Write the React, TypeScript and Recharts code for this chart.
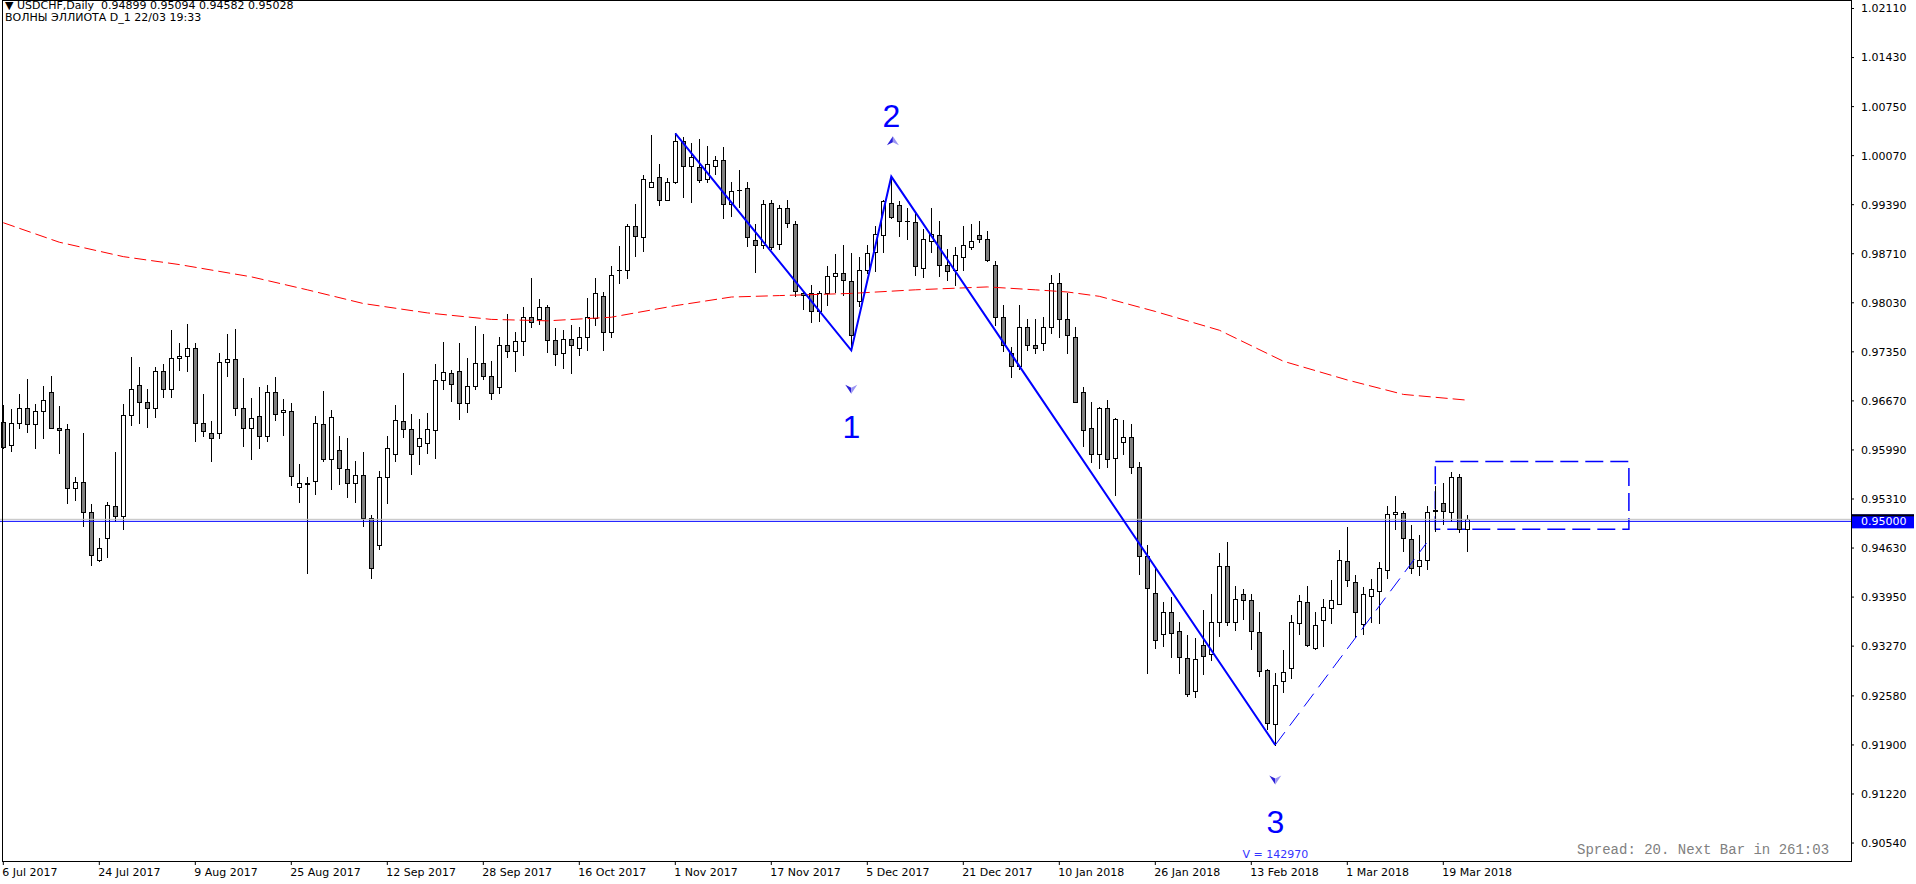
import React from "react";
import {
  Bar,
  ComposedChart,
  Line,
  ReferenceArea,
  ReferenceDot,
  ReferenceLine,
  XAxis,
  YAxis,
} from "recharts";

const FONT = "'DejaVu Sans', Verdana, sans-serif";
const BLUE = "#0000ff";

// USDCHF daily, 6 Jul 2017 .. 22 Mar 2018 (bar index 0..183)
const opens = [
  0.9638, 0.9606, 0.9636, 0.9657, 0.9635, 0.9653, 0.9679, 0.963, 0.9628, 0.9546,
  0.9554, 0.9513, 0.9446, 0.9477, 0.9521, 0.9508, 0.9648, 0.9689, 0.9666, 0.9657,
  0.9708, 0.9684, 0.9726, 0.9729, 0.9741, 0.9636, 0.9622, 0.9622, 0.9721, 0.9725,
  0.9657, 0.9629, 0.9646, 0.9619, 0.968, 0.9651, 0.9653, 0.9547, 0.9553, 0.9556,
  0.9635, 0.9586, 0.9599, 0.9572, 0.9553, 0.9564, 0.9504, 0.9467, 0.9562, 0.9593,
  0.9639, 0.9628, 0.9605, 0.9608, 0.9626, 0.9696, 0.9705, 0.9708, 0.9664, 0.9687,
  0.972, 0.9701, 0.9686, 0.9745, 0.9736, 0.975, 0.9783, 0.978, 0.9797, 0.9751,
  0.9733, 0.9753, 0.9741, 0.9755, 0.9782, 0.9813, 0.9762, 0.9848, 0.9848, 0.991,
  0.9894, 0.9964, 0.9978, 0.9946, 0.997, 1.0027, 0.9992, 0.9991, 0.9974, 0.9992,
  1.0001, 0.994, 0.996, 0.9962, 0.989, 0.9883, 0.9941, 0.9885, 0.9934, 0.9912,
  0.9817, 0.9816, 0.9791, 0.9816, 0.984, 0.9844, 0.9833, 0.9806, 0.9848, 0.9874,
  0.9897, 0.9942, 0.9938, 0.9917, 0.9915, 0.9851, 0.9888, 0.9897, 0.9855, 0.9848,
  0.9867, 0.9881, 0.9897, 0.9891, 0.9856, 0.9784, 0.9734, 0.9715, 0.9769, 0.9744,
  0.9747, 0.977, 0.983, 0.9781, 0.9755, 0.968, 0.9629, 0.9594, 0.9657, 0.9588,
  0.961, 0.9617, 0.9575, 0.9452, 0.94, 0.9344, 0.9374, 0.9348, 0.931, 0.9265,
  0.9328, 0.9316, 0.936, 0.9438, 0.936, 0.9399, 0.9391, 0.9346, 0.9294, 0.9219,
  0.9278, 0.9296, 0.9359, 0.9388, 0.9324, 0.9363, 0.938, 0.9386, 0.9445, 0.9416,
  0.9357, 0.9396, 0.9404, 0.9432, 0.951, 0.9511, 0.9475, 0.9438, 0.9447, 0.9515,
  0.9525, 0.9513, 0.9562, 0.94899,
];
const highs = [
  0.9661, 0.9656, 0.9677, 0.9697, 0.9663, 0.9688, 0.9702, 0.966, 0.9635, 0.9561,
  0.9623, 0.9524, 0.9477, 0.9527, 0.9596, 0.9662, 0.9728, 0.9714, 0.9684, 0.9714,
  0.9718, 0.9765, 0.9747, 0.9774, 0.9747, 0.9677, 0.9639, 0.9733, 0.976, 0.9767,
  0.9699, 0.9671, 0.9686, 0.9689, 0.97, 0.967, 0.9664, 0.958, 0.9561, 0.9646,
  0.9681, 0.9654, 0.9618, 0.9616, 0.9584, 0.9596, 0.9509, 0.957, 0.9618, 0.9661,
  0.9706, 0.9649, 0.9642, 0.965, 0.9718, 0.9749, 0.971, 0.9747, 0.9726, 0.9771,
  0.976, 0.9722, 0.9756, 0.9788, 0.9763, 0.9797, 0.9837, 0.9808, 0.98, 0.9768,
  0.9765, 0.9772, 0.9769, 0.981, 0.9837, 0.9818, 0.9854, 0.9882, 0.9912, 0.994,
  0.998, 1.0036, 0.9996, 0.9976, 1.0038, 1.0033, 1.0024, 1.003, 1.002, 1.0007,
  1.0019, 0.997, 0.9987, 0.9971, 0.9912, 0.9946, 0.9945, 0.9938, 0.9946, 0.9917,
  0.9819, 0.9827, 0.982, 0.9854, 0.987, 0.9883, 0.9872, 0.9867, 0.9883, 0.991,
  0.9946, 0.9978, 0.9944, 0.9935, 0.9927, 0.9905, 0.9935, 0.9917, 0.9878, 0.988,
  0.991, 0.9912, 0.9916, 0.9903, 0.9861, 0.98, 0.9742, 0.98, 0.978, 0.978,
  0.9784, 0.9842, 0.9845, 0.9816, 0.977, 0.9686, 0.9666, 0.9658, 0.9668, 0.9643,
  0.964, 0.9635, 0.9582, 0.9467, 0.9435, 0.9388, 0.9395, 0.936, 0.9343, 0.9338,
  0.9377, 0.9399, 0.9456, 0.9471, 0.941, 0.9406, 0.9399, 0.9375, 0.9295, 0.929,
  0.9321, 0.937, 0.9398, 0.941, 0.9375, 0.9392, 0.9418, 0.946, 0.9492, 0.9425,
  0.9409, 0.942, 0.9443, 0.9521, 0.9535, 0.9514, 0.9495, 0.9481, 0.9521, 0.9549,
  0.9553, 0.9569, 0.9565, 0.95094,
];
const lows = [
  0.9601, 0.9597, 0.963, 0.9624, 0.9602, 0.9616, 0.9629, 0.9595, 0.9525, 0.9529,
  0.9493, 0.9439, 0.9445, 0.9451, 0.95, 0.949, 0.9634, 0.9637, 0.9631, 0.9644,
  0.9672, 0.9672, 0.971, 0.9709, 0.9612, 0.9619, 0.9584, 0.9615, 0.9702, 0.9648,
  0.9605, 0.9586, 0.9601, 0.9612, 0.9641, 0.962, 0.955, 0.9527, 0.9429, 0.9538,
  0.9583, 0.9545, 0.9552, 0.9534, 0.9527, 0.9494, 0.9421, 0.9461, 0.9525, 0.9584,
  0.9617, 0.9565, 0.958, 0.9595, 0.9588, 0.9684, 0.9667, 0.9642, 0.9652, 0.9684,
  0.9698, 0.967, 0.9678, 0.9728, 0.9709, 0.973, 0.977, 0.9773, 0.9735, 0.9717,
  0.9712, 0.9705, 0.973, 0.9738, 0.9772, 0.9737, 0.9755, 0.9831, 0.9838, 0.9868,
  0.9875, 0.9963, 0.9938, 0.9945, 0.9969, 0.9949, 0.9943, 0.9971, 0.997, 0.9981,
  0.9921, 0.9924, 0.9936, 0.9882, 0.9846, 0.9879, 0.9878, 0.9878, 0.9908, 0.9813,
  0.9795, 0.9776, 0.9778, 0.98, 0.9818, 0.9814, 0.9738, 0.9799, 0.9845, 0.9847,
  0.9873, 0.9921, 0.9896, 0.9891, 0.9842, 0.9839, 0.9873, 0.984, 0.9835, 0.9828,
  0.9848, 0.9878, 0.9887, 0.9861, 0.9772, 0.9736, 0.97, 0.9711, 0.9737, 0.9733,
  0.9738, 0.9761, 0.9755, 0.9733, 0.9665, 0.9604, 0.9582, 0.9574, 0.9575, 0.9536,
  0.9593, 0.9567, 0.9427, 0.929, 0.9324, 0.9327, 0.9312, 0.929, 0.9258, 0.9256,
  0.9288, 0.9308, 0.9341, 0.9356, 0.9349, 0.9364, 0.9323, 0.9285, 0.9212, 0.919,
  0.9263, 0.9283, 0.9344, 0.9327, 0.9323, 0.9327, 0.9359, 0.9385, 0.941, 0.9339,
  0.9344, 0.936, 0.9359, 0.9422, 0.9489, 0.9459, 0.9429, 0.9425, 0.9434, 0.9487,
  0.9496, 0.9501, 0.9485, 0.94582,
];
const closes = [
  0.9603, 0.9637, 0.9657, 0.9635, 0.9653, 0.9668, 0.963, 0.9627, 0.9546, 0.9554,
  0.9513, 0.9453, 0.9463, 0.9522, 0.9508, 0.9648, 0.9684, 0.9665, 0.9657, 0.9708,
  0.9684, 0.9726, 0.9729, 0.9741, 0.9636, 0.9625, 0.9615, 0.9721, 0.9725, 0.9657,
  0.9629, 0.9643, 0.9618, 0.968, 0.9649, 0.9654, 0.9563, 0.9553, 0.9552, 0.9636,
  0.9586, 0.9644, 0.9574, 0.9553, 0.9564, 0.9504, 0.9436, 0.9562, 0.9601, 0.964,
  0.9628, 0.9594, 0.9615, 0.9628, 0.9696, 0.9707, 0.969, 0.9664, 0.9687, 0.972,
  0.9701, 0.9678, 0.9745, 0.9736, 0.975, 0.9783, 0.9776, 0.9797, 0.9751, 0.9732,
  0.9753, 0.9744, 0.9755, 0.9784, 0.9816, 0.9762, 0.9842, 0.9849, 0.991, 0.9895,
  0.9974, 0.9971, 0.9946, 0.997, 1.0027, 0.9992, 1.0005, 0.9973, 0.9996, 1.0001,
  0.994, 0.9958, 0.9959, 0.9894, 0.9883, 0.994, 0.988, 0.9935, 0.9913, 0.982,
  0.9814, 0.9791, 0.9817, 0.984, 0.9845, 0.9835, 0.9759, 0.9849, 0.9872, 0.9898,
  0.9944, 0.9922, 0.9917, 0.9916, 0.9854, 0.9891, 0.9898, 0.9856, 0.9847, 0.9869,
  0.9883, 0.9888, 0.9892, 0.9862, 0.9784, 0.9744, 0.9716, 0.9769, 0.9744, 0.974,
  0.977, 0.983, 0.9781, 0.9758, 0.9666, 0.9626, 0.9594, 0.9657, 0.9586, 0.9642,
  0.9617, 0.9575, 0.9452, 0.9407, 0.9335, 0.9375, 0.9345, 0.9312, 0.926, 0.9309,
  0.9314, 0.936, 0.9438, 0.936, 0.9392, 0.9391, 0.9348, 0.9292, 0.922, 0.9273,
  0.9291, 0.936, 0.9389, 0.9328, 0.9356, 0.9381, 0.9391, 0.9446, 0.9418, 0.9375,
  0.9399, 0.9406, 0.9435, 0.951, 0.9513, 0.9477, 0.9435, 0.9447, 0.9513, 0.9516,
  0.9514, 0.9562, 0.9489, 0.95028,
];

const dateLabels = [
  "6 Jul 2017", "24 Jul 2017", "9 Aug 2017", "25 Aug 2017", "12 Sep 2017",
  "28 Sep 2017", "16 Oct 2017", "1 Nov 2017", "17 Nov 2017", "5 Dec 2017",
  "21 Dec 2017", "10 Jan 2018", "26 Jan 2018", "13 Feb 2018", "1 Mar 2018",
  "19 Mar 2018",
];
const priceTicks = [
  1.0211, 1.0143, 1.0075, 1.0007, 0.9939, 0.9871, 0.9803, 0.9735, 0.9667,
  0.9599, 0.9531, 0.9463, 0.9395, 0.9327, 0.9258, 0.919, 0.9122, 0.9054,
];

// moving average (red dashed), read at a few bars
const maBars = [0, 7, 15, 22, 31, 38, 45, 53, 61, 68, 76, 84, 91, 97, 106, 114, 123, 129, 133, 137, 144, 152, 160, 168, 175, 183];
const maValues = [
  0.9914, 0.9887, 0.9867, 0.9856, 0.9839, 0.9821, 0.9802, 0.9789, 0.978, 0.9778,
  0.9783, 0.9799, 0.9811, 0.9813, 0.9816, 0.9821, 0.9825, 0.9821, 0.9818, 0.9812,
  0.9791, 0.9765, 0.9722, 0.9696, 0.9676, 0.9668,
];

// Elliott wave zigzag
const waveBars = [84, 106, 111, 159];
const waveValues = [1.0038, 0.9737, 0.9978, 0.919];
const wave4Bars = [159, 177.9];
const wave4Values = [0.919, 0.947];
const boxBars = [179, 203.2];
const boxPrices = [0.9489, 0.9583];
const levelPrice = 0.95;
const bidPrice = 0.95028;

const waveLabels = [
  { text: "1", i: 106, p: 0.9632 },
  { text: "2", i: 111, p: 1.0063 },
  { text: "3", i: 159, p: 0.9084 },
];
const waveArrows = [
  { i: 106, p: 0.9684, up: false },
  { i: 111.2, p: 1.0027, up: true },
  { i: 159, p: 0.9142, up: false },
];

const candles = opens.map((o, i) => ({
  i,
  o,
  h: highs[i],
  l: lows[i],
  c: closes[i],
  range: [lows[i], highs[i]],
}));
const maData = maBars.map((i, k) => ({ i, v: maValues[k] }));
const waveData = waveBars.map((i, k) => ({ i, w: waveValues[k] }));
const wave4Data = wave4Bars.map((i, k) => ({ i, w: wave4Values[k] }));

function Candle(props: any) {
  const { x, y, width, height, payload } = props;
  if (x == null || payload == null) return null;
  const top = Math.min(y, y + height);
  const bot = Math.max(y, y + height);
  const span = payload.h - payload.l || 1e-9;
  const py = (p: number) => top + ((payload.h - p) / span) * (bot - top);
  const cx = Math.round(x + width / 2);
  const yo = Math.round(py(payload.o));
  const yc = Math.round(py(payload.c));
  const bTop = Math.min(yo, yc);
  const bBot = Math.max(yo, yc);
  const up = payload.c >= payload.o;
  return (
    <g>
      <line x1={cx + 0.5} x2={cx + 0.5} y1={Math.round(top)} y2={Math.round(bot) + 1} stroke="#000" strokeWidth={1} />
      {bBot - bTop < 1 ? (
        <line x1={cx - 2} x2={cx + 3} y1={bTop + 0.5} y2={bTop + 0.5} stroke="#000" strokeWidth={1} />
      ) : (
        <rect
          x={cx - 1.5}
          y={bTop + 0.5}
          width={4}
          height={bBot - bTop}
          fill={up ? "#ffffff" : "#808080"}
          stroke="#000"
          strokeWidth={1}
        />
      )}
    </g>
  );
}

function DateTick(props: any) {
  const { x, y, payload } = props;
  return (
    <text x={x - 1} y={y + 9} fontSize={11} fontFamily={FONT} fill="#000" textAnchor="start">
      {dateLabels[Math.round(payload.value / 12)]}
    </text>
  );
}

function Arrow({ cx, cy, up }: { cx: number; cy: number; up: boolean }) {
  const s = up ? 1 : -1;
  const left = `M${cx},${cy - 5 * s} L${cx - 6},${cy + 4 * s} L${cx},${cy + 1 * s} Z`;
  const right = `M${cx},${cy - 5 * s} L${cx + 6},${cy + 4 * s} L${cx},${cy + 1 * s} Z`;
  return (
    <g>
      <path d={left} fill="#2a1fd8" />
      <path d={right} fill="#9b95f2" />
    </g>
  );
}

export default function App() {
  return (
    <div style={{ position: "fixed", left: 0, top: 0, width: 1916, height: 884, background: "#fff", overflow: "hidden" }}>
      <ComposedChart
        width={1916}
        height={884}
        data={candles}
        margin={{ top: 0, right: 0, bottom: 0, left: 0 }}
      >
        <XAxis
          type="number"
          dataKey="i"
          domain={[-0.4125, 230.9625]}
          allowDataOverflow
          ticks={dateLabels.map((_, k) => k * 12)}
          interval={0}
          tick={<DateTick />}
          tickLine={{ stroke: "#000" }}
          tickSize={4}
          tickMargin={2}
          axisLine={false}
          height={23}
        />
        <YAxis
          orientation="right"
          type="number"
          domain={[0.90291, 1.02228]}
          allowDataOverflow
          ticks={priceTicks}
          interval={0}
          width={65}
          tickFormatter={(v) => (v as number).toFixed(5)}
          tick={{ fontSize: 11, fill: "#000", fontFamily: FONT }}
          tickLine={{ stroke: "#000" }}
          tickSize={3}
          tickMargin={7}
          axisLine={false}
        />
        <Line
          data={maData}
          dataKey="v"
          type="linear"
          stroke="#ff0000"
          strokeWidth={1}
          strokeDasharray="12 5"
          dot={false}
          activeDot={false}
          isAnimationActive={false}
        />
        <ReferenceLine y={bidPrice} stroke="#c0c0c0" strokeWidth={1} />
        <ReferenceLine
          y={levelPrice}
          stroke={BLUE}
          strokeWidth={1}
          label={(p: any) => {
            const vb = p.viewBox || {};
            const x = vb.x + vb.width;
            const y = vb.y;
            return (
              <g>
                <rect x={x + 1} y={y - 7} width={62} height={14} fill={BLUE} />
                <rect x={x + 1} y={y - 7} width={62} height={2} fill="#000" />
                <text x={x + 10} y={y + 4} fontSize={11} fontFamily={FONT} fill="#fff">
                  0.95000
                </text>
              </g>
            );
          }}
        />
        <Bar dataKey="range" barSize={5} shape={<Candle />} activeBar={false} isAnimationActive={false} />
        <Line
          data={waveData}
          dataKey="w"
          type="linear"
          stroke={BLUE}
          strokeWidth={2}
          dot={false}
          activeDot={false}
          isAnimationActive={false}
        />
        <Line
          data={wave4Data}
          dataKey="w"
          type="linear"
          stroke={BLUE}
          strokeWidth={1}
          strokeDasharray="16 8"
          dot={false}
          activeDot={false}
          isAnimationActive={false}
        />
        <ReferenceArea
          x1={boxBars[0]}
          x2={boxBars[1]}
          y1={boxPrices[0]}
          y2={boxPrices[1]}
          fill="none"
          fillOpacity={0}
          stroke={BLUE}
          strokeWidth={1.5}
          strokeDasharray="18 7"
        />
        {waveLabels.map((w) => (
          <ReferenceDot
            key={w.text}
            x={w.i}
            y={w.p}
            r={0}
            shape={(p: any) => (
              <text
                x={p.cx}
                y={p.cy + 11.5}
                textAnchor="middle"
                fontSize={32}
                fontFamily="'Liberation Sans', Arial, sans-serif"
                fill={BLUE}
              >
                {w.text}
              </text>
            )}
          />
        ))}
        {waveArrows.map((a, k) => (
          <ReferenceDot key={"a" + k} x={a.i} y={a.p} r={0} shape={(p: any) => <Arrow cx={p.cx} cy={p.cy} up={a.up} />} />
        ))}
        <ReferenceDot
          x={159}
          y={0.90388}
          r={0}
          shape={(p: any) => (
            <text x={p.cx} y={p.cy + 4} textAnchor="middle" fontSize={11} fontFamily={FONT} fill="#3333ff">
              V = 142970
            </text>
          )}
        />
      </ComposedChart>
      <div
        style={{
          position: "absolute",
          left: 2,
          top: 0,
          width: 1850,
          height: 862,
          boxSizing: "border-box",
          border: "1px solid #000",
          pointerEvents: "none",
        }}
      />
      <div style={{ position: "absolute", left: 5, top: 0, fontFamily: FONT, fontSize: 11, lineHeight: "12px", color: "#000", whiteSpace: "pre" }}>
        {"▼ USDCHF,Daily  0.94899 0.95094 0.94582 0.95028\nВОЛНЫ ЭЛЛИОТА D_1 22/03 19:33"}
      </div>
      <div
        style={{
          position: "absolute",
          left: 1577,
          top: 842,
          fontFamily: "'Liberation Mono', 'Courier New', monospace",
          fontSize: 14,
          lineHeight: "16px",
          color: "#808080",
          whiteSpace: "pre",
        }}
      >
        Spread: 20. Next Bar in 261:03
      </div>
    </div>
  );
}
